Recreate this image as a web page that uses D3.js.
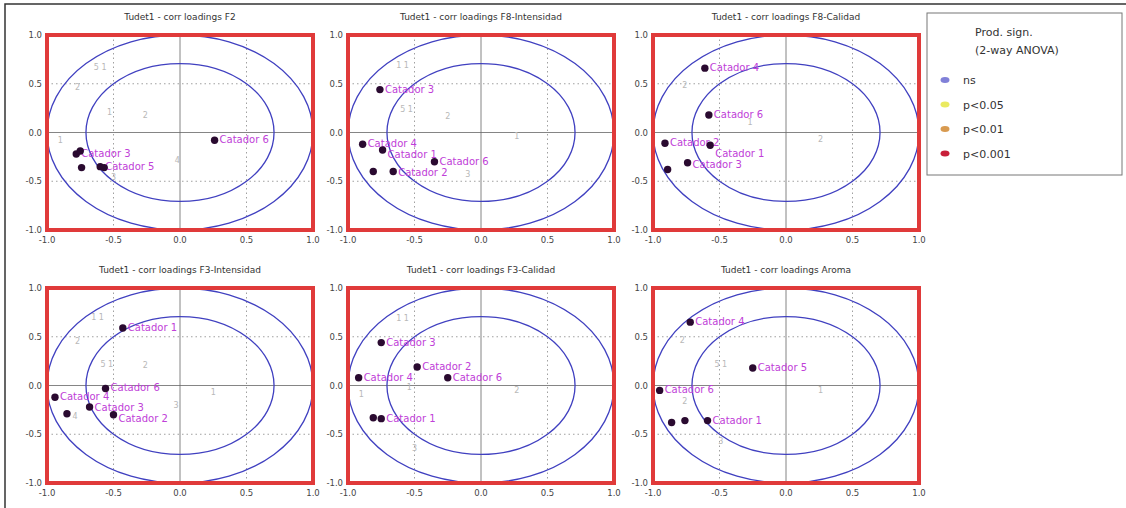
<!DOCTYPE html>
<html>

<head>
    <meta charset="utf-8">
    <title>Correlation loadings</title>
    <script src="https://d3js.org/d3.v7.min.js"></script>
    <style>
        body {
            margin: 0;
            background: #fff;
            font-family: "DejaVu Sans", sans-serif;
        }

        .tick-label {
            font-size: 8.5px;
            fill: #444;
        }

        .title {
            font-size: 9px;
            fill: #333;
        }

        .cat-label {
            font-size: 10px;
            fill: #c040d8;
        }

        .attr-label {
            font-size: 8px;
            fill: #b8b8b8;
        }
    </style>
</head>

<body>
    <div id="chart"></div>

    <script>
        // panel titles
        const titles = [
            "Tudet1 - corr loadings F2",
            "Tudet1 - corr loadings F8-Intensidad",
            "Tudet1 - corr loadings F8-Calidad",
            "Tudet1 - corr loadings F3-Intensidad",
            "Tudet1 - corr loadings F3-Calidad",
            "Tudet1 - corr loadings Aroma"
        ];

        const ticks = [-1.0, -0.5, 0.0, 0.5, 1.0];

        // catador points per panel: [label, x, y]
        const catF2 = [
            ["Catador 6", 0.26, -0.08],
            ["Catador 3", -0.78, -0.22],
            ["", -0.75, -0.19],
            ["", -0.74, -0.36],
            ["Catador 5", -0.60, -0.35],
            ["", -0.57, -0.36]
        ];
        const catF8Int = [
            ["Catador 3", -0.76, 0.44],
            ["Catador 4", -0.89, -0.12],
            ["Catador 1", -0.74, -0.18],
            ["Catador 6", -0.35, -0.30],
            ["", -0.81, -0.40],
            ["Catador 2", -0.66, -0.40]
        ];
        const catF8Cal = [
            ["Catador 4", -0.61, 0.66],
            ["Catador 6", -0.58, 0.18],
            ["Catador 2", -0.91, -0.11],
            ["Catador 1", -0.57, -0.13],
            ["Catador 3", -0.74, -0.31],
            ["", -0.89, -0.38]
        ];
        const catF3Int = [
            ["Catador 1", -0.43, 0.59],
            ["Catador 6", -0.56, -0.03],
            ["Catador 4", -0.94, -0.12],
            ["", -0.85, -0.29],
            ["Catador 3", -0.68, -0.22],
            ["Catador 2", -0.50, -0.30]
        ];
        const catF3Cal = [
            ["Catador 3", -0.75, 0.44],
            ["Catador 2", -0.48, 0.19],
            ["Catador 6", -0.25, 0.08],
            ["Catador 4", -0.92, 0.08],
            ["", -0.81, -0.33],
            ["Catador 1", -0.75, -0.34]
        ];
        const catAroma = [
            ["Catador 4", -0.72, 0.65],
            ["Catador 5", -0.25, 0.18],
            ["Catador 6", -0.95, -0.05],
            ["", -0.86, -0.38],
            ["", -0.76, -0.36],
            ["Catador 1", -0.59, -0.36]
        ];

        // faint attribute points per panel: [label, x, y]
        const attrF2 = [["5 1", -0.6, 0.64], ["2", -0.77, 0.44], ["1", -0.53, 0.18], ["2", -0.26, 0.15], ["1", -0.9, -0.11], ["4", -0.02, -0.31], ["3", -0.5, -0.49]];
        const attrF8Int = [["1 1", -0.59, 0.66], ["5 1", -0.56, 0.21], ["2", -0.25, 0.14], ["1", 0.27, -0.07], ["3", -0.1, -0.46]];
        const attrF8Cal = [["2", -0.76, 0.46], ["1", -0.27, 0.08], ["2", 0.26, -0.1]];
        const attrF3Int = [["1 1", -0.62, 0.67], ["2", -0.77, 0.43], ["5 1", -0.55, 0.19], ["2", -0.26, 0.18], ["1", 0.25, -0.1], ["3", -0.03, -0.23], ["4", -0.79, -0.34]];
        const attrF3Cal = [["1 1", -0.59, 0.66], ["1", -0.54, -0.05], ["2", 0.27, -0.08], ["1", -0.9, -0.12], ["3", -0.5, -0.67]];
        const attrAroma = [["2", -0.78, 0.44], ["5 1", -0.49, 0.19], ["1", 0.26, -0.08], ["2", -0.76, -0.19], ["3", -0.49, -0.6]];

        const catSets = [catF2, catF8Int, catF8Cal, catF3Int, catF3Cal, catAroma];
        const attrSets = [attrF2, attrF8Int, attrF8Cal, attrF3Int, attrF3Cal, attrAroma];

        // legend
        const legendTitle = ["Prod. sign.", "(2-way ANOVA)"];
        const legendLabels = ["ns", "p<0.05", "p<0.01", "p<0.001"];
        const legendColors = ["#8080d8", "#eaea60", "#d89a50", "#c8203a"];

        const W = 1126, H = 508;
        const pw = 266, ph = 195;
        const colX = [47, 348, 653];
        const rowY = [35, 288];

        const svg = d3.select("#chart")
            .append("svg")
            .attr("width", W)
            .attr("height", H);

        svg.append("rect").attr("width", W).attr("height", H).attr("fill", "#fff");
        // outer frame of the figure window
        svg.append("rect")
            .attr("x", 5).attr("y", 4)
            .attr("width", W).attr("height", H)
            .attr("fill", "none")
            .attr("stroke", "#333")
            .attr("stroke-width", 1.5);

        const x = d3.scaleLinear().domain([-1, 1]).range([0, pw]);
        const y = d3.scaleLinear().domain([-1, 1]).range([ph, 0]);

        titles.forEach((t, i) => {
            const g = svg.append("g")
                .attr("transform", `translate(${colX[i % 3]},${rowY[Math.floor(i / 3)]})`);

            g.append("rect").attr("width", pw).attr("height", ph).attr("fill", "#fff");

            // grid
            ticks.forEach(v => {
                g.append("line")
                    .attr("x1", x(v)).attr("x2", x(v)).attr("y1", 0).attr("y2", ph)
                    .attr("stroke", v === 0 ? "#666" : "#888")
                    .attr("stroke-width", 0.8)
                    .attr("stroke-dasharray", v === 0 ? null : "1.5,3");
                g.append("line")
                    .attr("y1", y(v)).attr("y2", y(v)).attr("x1", 0).attr("x2", pw)
                    .attr("stroke", v === 0 ? "#666" : "#888")
                    .attr("stroke-width", 0.8)
                    .attr("stroke-dasharray", v === 0 ? null : "1.5,3");
            });

            // circles r=1 and r=sqrt(0.5)
            [1, Math.sqrt(0.5)].forEach(r => {
                g.append("ellipse")
                    .attr("cx", x(0)).attr("cy", y(0))
                    .attr("rx", x(r) - x(0)).attr("ry", y(0) - y(r))
                    .attr("fill", "none")
                    .attr("stroke", "#4040c0")
                    .attr("stroke-width", 1.3);
            });

            // faint attribute labels
            g.selectAll(".attr-label")
                .data(attrSets[i])
                .join("text")
                .attr("class", "attr-label")
                .attr("x", d => x(d[1]))
                .attr("y", d => y(d[2]))
                .attr("text-anchor", "middle")
                .text(d => d[0]);

            // catador points
            const cats = catSets[i];
            const labels = g.selectAll(".cat-label")
                .data(cats)
                .join("text")
                .attr("class", "cat-label")
                .attr("x", d => x(d[1]) + 5)
                .attr("y", d => y(d[2]) + 3)
                .text(d => d[0]);

            // nudge labels that would sit on top of one another
            const placed = [];
            labels.each(function () {
                if (!this.textContent) return;
                let b = this.getBBox();
                placed.forEach(p => {
                    const overlapX = b.x < p.x + p.width && p.x < b.x + b.width;
                    const overlapY = b.y < p.y + p.height && p.y < b.y + b.height;
                    if (overlapX && overlapY) {
                        const shift = (b.y < p.y) ? -(b.y + b.height - p.y) : (p.y + p.height - b.y);
                        this.setAttribute("y", +this.getAttribute("y") + shift);
                        b = this.getBBox();
                    }
                });
                placed.push(b);
            });

            g.selectAll(".cat-dot")
                .data(cats)
                .join("circle")
                .attr("class", "cat-dot")
                .attr("cx", d => x(d[1]))
                .attr("cy", d => y(d[2]))
                .attr("r", 3.7)
                .attr("fill", "#2a0a30");

            // red significance frame
            g.append("rect")
                .attr("width", pw).attr("height", ph)
                .attr("fill", "none")
                .attr("stroke", "#e03a3a")
                .attr("stroke-width", 4);

            // tick labels
            g.selectAll(".ylab")
                .data(ticks)
                .join("text")
                .attr("class", "tick-label")
                .attr("x", -5)
                .attr("y", d => y(d) + 3)
                .attr("text-anchor", "end")
                .text(d => d.toFixed(1));
            g.selectAll(".xlab")
                .data(ticks)
                .join("text")
                .attr("class", "tick-label")
                .attr("x", d => x(d))
                .attr("y", ph + 13)
                .attr("text-anchor", "middle")
                .text(d => d.toFixed(1));

            g.append("text")
                .attr("class", "title")
                .attr("x", pw / 2)
                .attr("y", -15)
                .attr("text-anchor", "middle")
                .text(t);
        });

        // legend box
        const lg = svg.append("g").attr("transform", "translate(927,13)");
        lg.append("rect")
            .attr("width", 195).attr("height", 162)
            .attr("fill", "#fff")
            .attr("stroke", "#777")
            .attr("stroke-width", 1);
        legendTitle.forEach((t, i) => {
            lg.append("text")
                .attr("x", 48).attr("y", 23 + i * 18)
                .attr("font-size", 11).attr("fill", "#333")
                .text(t);
        });
        legendLabels.forEach((t, i) => {
            const yy = 67 + i * 24.5;
            lg.append("ellipse")
                .attr("cx", 18).attr("cy", yy)
                .attr("rx", 4.5).attr("ry", 3)
                .attr("fill", legendColors[i]);
            lg.append("text")
                .attr("x", 36).attr("y", yy + 4)
                .attr("font-size", 11).attr("fill", "#333")
                .text(t);
        });
    </script>
</body>

</html>
